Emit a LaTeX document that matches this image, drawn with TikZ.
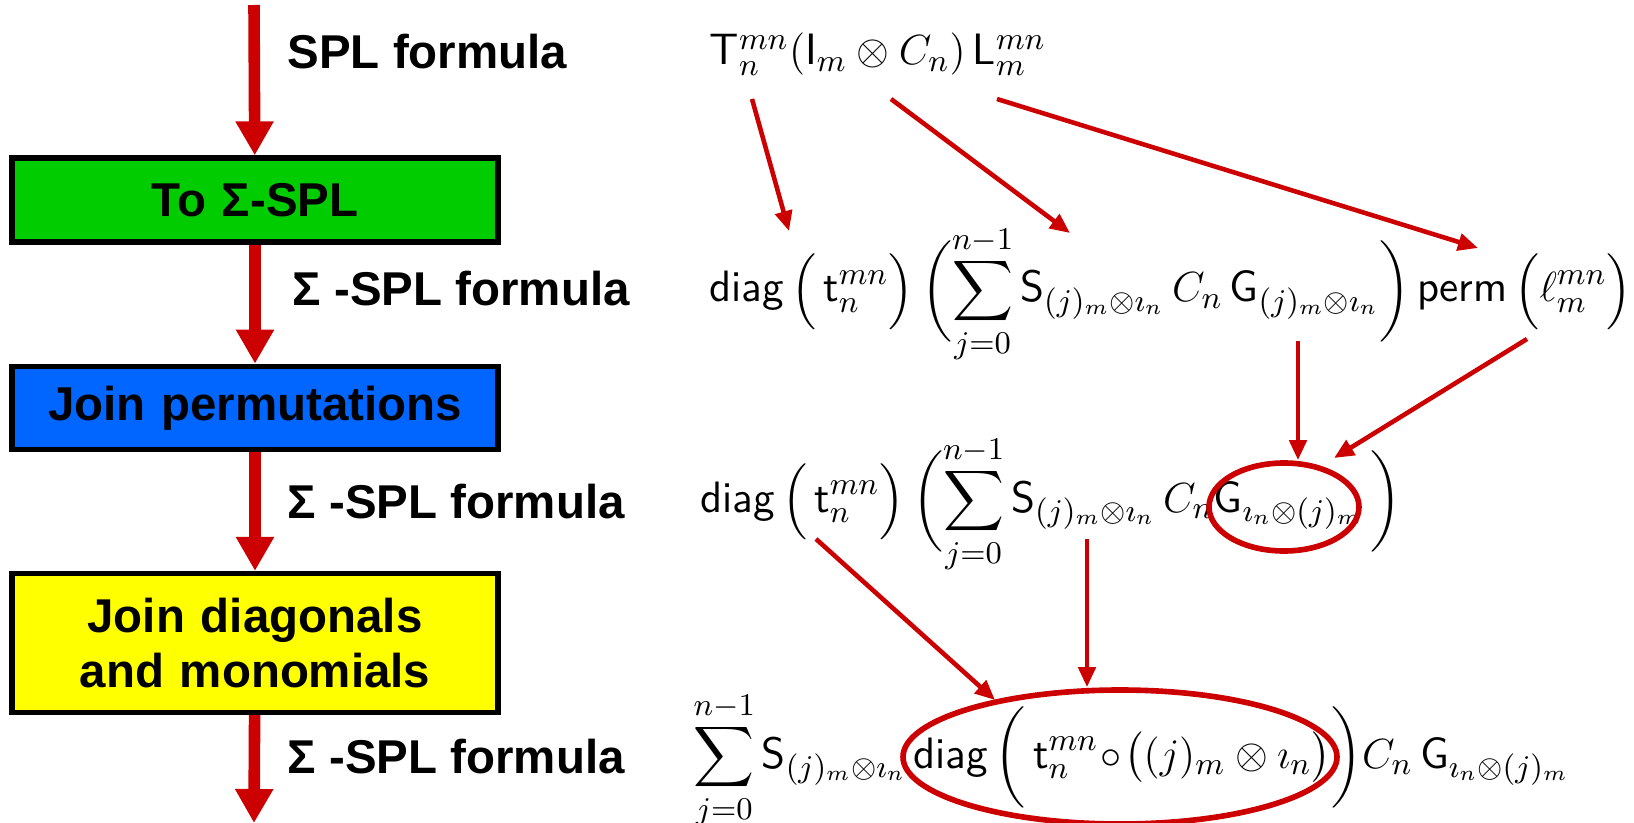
\documentclass[tikz,border=0pt]{standalone}
\usepackage{amsmath}
\usepackage{fontspec}
\usetikzlibrary{arrows.meta, positioning, calc, shapes.geometric}
\newfontfamily\lblfont{Liberation Sans}
\definecolor{arrred}{RGB}{204,0,0}
\definecolor{boxgreen}{RGB}{0,204,0}
\definecolor{boxblue}{RGB}{0,102,255}
\definecolor{boxyellow}{RGB}{255,255,0}

\begin{document}
\begin{tikzpicture}[
  %% box styles
  stepbox/.style={
    rectangle, draw=black, line width=1.5pt,
    minimum width=4.86cm, text width=4.6cm, align=center,
    font=\lblfont\bfseries\fontsize{13.5}{15.7}\selectfont},
  lbl/.style={anchor=west, inner sep=0pt,
    font=\lblfont\bfseries\fontsize{13.5}{15.7}\selectfont},
  fml/.style={anchor=base west, inner sep=0pt,
    font=\fontsize{12.5}{15}\selectfont},
  ring/.style={ellipse, draw=arrred, line width=1.6pt, inner sep=0pt},
  %% arrows
  flow/.style={-{Triangle[width=0.36cm, length=0.34cm]}, line width=3.3pt, arrred},
  map/.style={-{Triangle[width=0.17cm, length=0.2cm]}, line width=1.3pt, arrred}
]
\useasboundingbox (0,0) rectangle (16.34,-8.23);

%% ── Left column: transformation steps ──────────────────────────────────
\coordinate (start) at (2.54,-0.05);
\node[stepbox, fill=boxgreen, minimum height=0.84cm] (tosigma) at (2.55,-2.00) {To Σ-SPL};
\node[stepbox, fill=boxblue, minimum height=0.83cm, below=1.19cm of tosigma] (joinperm) {Join permutations};
\node[stepbox, fill=boxyellow, minimum height=1.39cm, below=1.19cm of joinperm] (joindiag) {Join diagonals\\and monomials};
\coordinate (finish) at (2.54,-8.23);

\draw[flow] (start)    -- (tosigma);
\draw[flow] (tosigma)  -- (joinperm);
\draw[flow] (joinperm) -- (joindiag);
\draw[flow] (joindiag) -- (finish);

%% labels next to the arrows
\node[lbl] (lspl)  at (2.87,-0.52) {SPL formula};
\node[lbl] (lsig1) at (2.92,-2.89) {Σ -SPL formula};
\node[lbl] (lsig2) at (2.87,-5.02) {Σ -SPL formula};
\node[lbl] (lsig3) at (2.87,-7.57) {Σ -SPL formula};

%% ── Right column: the formulas ─────────────────────────────────────────
\node[fml] (spl) at (7.09,-0.65)
  {$\mathsf{T}_n^{mn}(\mathsf{I}_m\otimes C_n)\,\mathsf{L}_m^{mn}$};
\node[fml] (sig1) at (7.09,-3.02)
  {$\displaystyle \mathsf{diag}\,\Bigl(\,\mathsf{t}_n^{mn}\Bigr)\,\biggl(\sum_{j=0}^{n-1}\mathsf{S}_{(j)_m\otimes\imath_n}\,C_n\,\mathsf{G}_{(j)_m\otimes\imath_n}\biggr)\,\mathsf{perm}\,\Bigl(\ell_m^{mn}\Bigr)$};
\node[fml] (sig2) at (7.00,-5.12)
  {$\displaystyle \mathsf{diag}\,\Bigl(\,\mathsf{t}_n^{mn}\Bigr)\,\biggl(\sum_{j=0}^{n-1}\mathsf{S}_{(j)_m\otimes\imath_n}\,C_n\mathsf{G}_{\imath_n\otimes(j)_m}\,\biggr)$};
\node[fml] (sig3) at (6.93,-7.68)
  {$\displaystyle \sum_{j=0}^{n-1}\mathsf{S}_{(j)_m\otimes\imath_n}\,\mathsf{diag}\,\biggl(\,\mathsf{t}_n^{mn}\!\circ\!\bigl((j)_m\otimes\imath_n\bigr)\biggr)C_n\,\mathsf{G}_{\imath_n\otimes(j)_m}$};

%% highlighted parts
\node[ring, minimum width=1.5cm, minimum height=0.88cm] (gring) at (12.84,-5.07) {};
\node[ring, minimum width=4.34cm, minimum height=1.34cm] (dring) at (11.20,-7.57) {};

%% ── Mapping arrows ─────────────────────────────────────────────────────
\coordinate (tsrc)  at (7.52,-0.99);
\coordinate (csrc)  at (8.91,-0.99);
\coordinate (lsrc)  at (9.97,-0.99);
\coordinate (tdst)  at (7.89,-2.31);
\coordinate (cdst)  at (10.70,-2.33);
\coordinate (ldst)  at (14.78,-2.48);
\coordinate (gsrc)  at (12.98,-3.41);
\coordinate (psrc)  at (15.27,-3.39);
\coordinate (pdst)  at (13.34,-4.58);
\coordinate (dsrc)  at (8.16,-5.39);
\coordinate (ssrc)  at (10.87,-5.39);
\coordinate (ddst)  at (9.95,-7.00);

\draw[map] (tsrc) -- (tdst);
\draw[map] (csrc) -- (cdst);
\draw[map] (lsrc) -- (ldst);
\draw[map] (gsrc) -- (gsrc |- gring.north);
\draw[map] (psrc) -- (pdst);
\draw[map] (dsrc) -- (ddst);
\draw[map] (ssrc) -- (ssrc |- dring.north);

\end{tikzpicture}
\end{document}
